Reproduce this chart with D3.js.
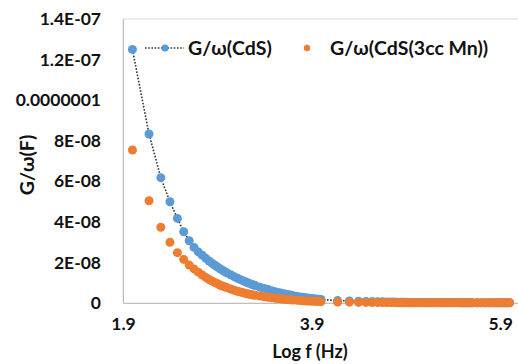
<!DOCTYPE html>
<html>
<head>
<meta charset="utf-8">
<script src="https://cdn.jsdelivr.net/npm/d3@7"></script>
<style>
  body { margin: 0; background: #fff; }
  svg text { font-family: Lato, "Open Sans", sans-serif; font-weight: 700; fill: #111; }
</style>
</head>
<body>
<div id="chart"></div>
<script>
// frequency sweep (Hz) — plotted as log10
const freqHz = [
  100, 150, 200, 250, 300, 350, 400, 450, 500, 550, 600, 650, 700, 750, 800, 850, 900, 950, 1000,
  1100, 1200, 1300, 1400, 1500, 1600, 1700, 1800, 1900, 2000,
  2250, 2500, 2750, 3000, 3250, 3500, 3750, 4000, 4250, 4500, 4750, 5000,
  5500, 6000, 6500, 7000, 7500, 8000, 8500, 9000, 9500, 10000,
  15000, 20000, 25000, 30000, 35000, 40000, 45000, 50000, 55000, 60000, 65000, 70000, 75000, 80000, 85000, 90000, 95000, 100000,
  110000, 120000, 130000, 140000, 150000, 160000, 170000, 180000, 190000, 200000,
  220000, 240000, 260000, 280000, 300000, 320000, 340000, 360000, 380000, 400000,
  450000, 500000, 550000, 600000, 650000, 700000, 750000, 800000, 850000, 900000, 950000, 1000000
];

// G/ω values in units of 1E-08 F
const unit = 1e-8;
const cdsValues = [
  12.5, 8.33, 6.18, 4.99, 4.17, 3.51, 3.07, 2.74, 2.52, 2.36, 2.20, 2.07, 1.96, 1.86, 1.77, 1.69, 1.62, 1.55, 1.49,
  1.39, 1.30, 1.22, 1.15, 1.09, 1.03, 0.98, 0.94, 0.90, 0.86,
  0.78, 0.72, 0.66, 0.61, 0.56, 0.52, 0.49, 0.46, 0.43, 0.41, 0.39, 0.37,
  0.33, 0.30, 0.28, 0.26, 0.24, 0.22, 0.21, 0.19, 0.18, 0.17,
  0.12, 0.10, 0.09, 0.08, 0.07, 0.06, 0.06, 0.05, 0.05, 0.05, 0.04, 0.04, 0.04, 0.04, 0.03, 0.03, 0.03, 0.03,
  0.03, 0.03, 0.02, 0.02, 0.02, 0.02, 0.02, 0.02, 0.02, 0.02,
  0.02, 0.02, 0.02, 0.02, 0.01, 0.01, 0.01, 0.01, 0.01, 0.01,
  0.01, 0.01, 0.01, 0.01, 0.01, 0.01, 0.01, 0.01, 0.01, 0.01, 0.01, 0.01
];
const cdsMnValues = [
  7.54, 5.04, 3.73, 2.99, 2.48, 2.15, 1.87, 1.68, 1.52, 1.38, 1.26, 1.16, 1.08, 1.01, 0.95, 0.89, 0.84, 0.80, 0.76,
  0.69, 0.63, 0.58, 0.54, 0.50, 0.47, 0.44, 0.42, 0.40, 0.38,
  0.34, 0.31, 0.28, 0.26, 0.24, 0.22, 0.21, 0.19, 0.18, 0.17, 0.16, 0.15,
  0.14, 0.12, 0.11, 0.10, 0.10, 0.09, 0.09, 0.08, 0.08, 0.07,
  0.05, 0.04, 0.03, 0.03, 0.02, 0.02, 0.02, 0.02, 0.02, 0.02, 0.01, 0.01, 0.01, 0.01, 0.01, 0.01, 0.01, 0.01,
  0.01, 0.01, 0.01, 0.01, 0.01, 0.01, 0.01, 0.01, 0.01, 0.01,
  0.01, 0.01, 0.01, 0.01, 0.01, 0.01, 0.01, 0.01, 0.01, 0.01,
  0.01, 0.01, 0.01, 0.01, 0.01, 0.01, 0.01, 0.01, 0.01, 0.01, 0.01, 0.01
];

const seriesNames = ['G/ω(CdS)', 'G/ω(CdS(3cc Mn))'];
const xTicks = [1.9, 3.9, 5.9];
const yTicks = [0, 2e-8, 4e-8, 6e-8, 8e-8, 1e-7, 1.2e-7, 1.4e-7];
const yTickLabels = ['0', '2E-08', '4E-08', '6E-08', '8E-08', '0.0000001', '1.2E-07', '1.4E-07'];

const width = 518;
const height = 364;
const margin = { top: 19, right: -1, bottom: 61, left: 123 };

const blue = '#5b9bd5';
const orange = '#ed7d31';

const svg = d3.select('#chart')
  .append('svg')
  .attr('width', width)
  .attr('height', height);

const x = d3.scaleLinear()
  .domain([1.9, 6.1])
  .range([margin.left, width - margin.right]);

const y = d3.scaleLinear()
  .domain([0, 1.4e-7])
  .range([height - margin.bottom, margin.top]);

const toPoints = (vals) => vals.map((v, i) => ({ lf: Math.log10(freqHz[i]), v: v * unit }));
const cds = toPoints(cdsValues);
const cdsMn = toPoints(cdsMnValues);

// plot area border
svg.append('rect')
  .attr('x', x(1.9))
  .attr('y', y(1.4e-7))
  .attr('width', x(6.1) - x(1.9))
  .attr('height', y(0) - y(1.4e-7))
  .attr('fill', 'none')
  .attr('stroke', '#d9d9d9')
  .attr('stroke-width', 1);

const yAxis = svg.append('g')
  .attr('transform', `translate(${margin.left},0)`)
  .call(d3.axisLeft(y).tickValues(yTicks).tickSize(0).tickPadding(22)
    .tickFormat((d, i) => yTickLabels[i]));
yAxis.select('.domain').attr('stroke', '#bfbfbf');
yAxis.selectAll('text').attr('font-size', 17.5).attr('fill', '#111');

const xAxis = svg.append('g')
  .attr('transform', `translate(0,${y(0)})`)
  .call(d3.axisBottom(x).tickValues(xTicks).tickSize(0).tickPadding(15)
    .tickFormat(d3.format('.1f')));
xAxis.select('.domain').attr('stroke', '#bfbfbf');
xAxis.selectAll('text').attr('font-size', 17.5).attr('fill', '#111');

// axis titles
svg.append('text')
  .attr('x', 310)
  .attr('y', 358)
  .attr('text-anchor', 'middle')
  .attr('font-size', 18)
  .text('Log f (Hz)');

svg.append('text')
  .attr('transform', 'rotate(-90)')
  .attr('x', -165)
  .attr('y', 34)
  .attr('text-anchor', 'middle')
  .attr('font-size', 19.5)
  .text('G/ω(F)');

// CdS series: dotted line + markers
const line = d3.line()
  .x((d) => x(d.lf))
  .y((d) => y(d.v));

svg.append('path')
  .datum(cds)
  .attr('d', line)
  .attr('fill', 'none')
  .attr('stroke', '#333')
  .attr('stroke-width', 1.6)
  .attr('stroke-dasharray', '1.6 1.6');

svg.append('g')
  .selectAll('circle')
  .data(cds)
  .join('circle')
  .attr('cx', (d) => x(d.lf))
  .attr('cy', (d) => y(d.v))
  .attr('r', 4.5)
  .attr('fill', blue);

svg.append('g')
  .selectAll('circle')
  .data(cdsMn)
  .join('circle')
  .attr('cx', (d) => x(d.lf))
  .attr('cy', (d) => y(d.v))
  .attr('r', 4.5)
  .attr('fill', orange);

// legend
const legendY = 48;
svg.append('line')
  .attr('x1', 145).attr('x2', 184)
  .attr('y1', legendY).attr('y2', legendY)
  .attr('stroke', '#333')
  .attr('stroke-width', 1.6)
  .attr('stroke-dasharray', '1.6 1.6');
svg.append('circle')
  .attr('cx', 165).attr('cy', legendY).attr('r', 3.6).attr('fill', blue);
svg.append('text')
  .attr('x', 188).attr('y', legendY)
  .attr('dy', '0.35em')
  .attr('font-size', 19.5)
  .text(seriesNames[0]);

svg.append('circle')
  .attr('cx', 307).attr('cy', legendY).attr('r', 3.2).attr('fill', orange);
svg.append('text')
  .attr('x', 330).attr('y', legendY)
  .attr('dy', '0.35em')
  .attr('font-size', 19.5)
  .text(seriesNames[1]);
</script>
</body>
</html>
